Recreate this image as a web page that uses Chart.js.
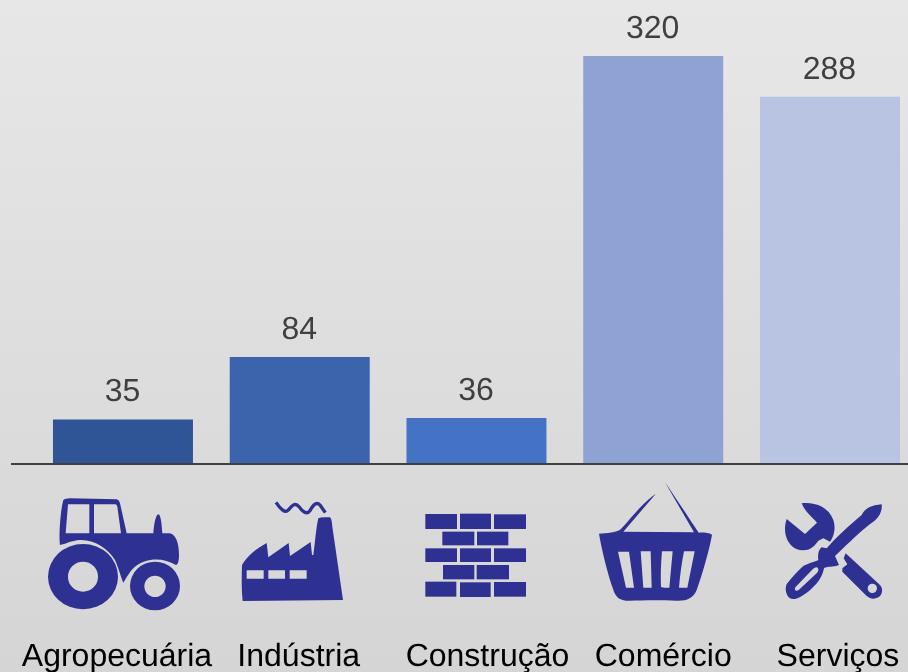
<!DOCTYPE html>
<html lang="pt">
<head>
<meta charset="utf-8">
<title>Setores</title>
<style>
html,body{margin:0;padding:0;width:908px;height:672px;overflow:hidden;background:#dedede}
#wrap{position:absolute;left:0;top:0;width:908px;height:672px;overflow:hidden}
canvas{display:block}
</style>
<script src="https://cdn.jsdelivr.net/npm/chart.js@4/dist/chart.umd.min.js"></script>
</head>
<body>
<div id="wrap"><canvas id="c" width="930" height="672"></canvas></div>
<script>
const categories = ["Agropecuária", "Indústria", "Construção", "Comércio", "Serviços"];
const values = [35, 84, 36, 320, 288];
const barColors = ["#2F5597", "#3C64AD", "#4472C4", "#8FA2D4", "#B9C3E2"];

const labelShift = [-6, -1, 11, 10, 8];
const ICON = "#2E3192";
const FONT = '"Liberation Sans", Arial, sans-serif';

const bricks = [
 [106,132,95,45],[210,131,93,46],[312,133,96,44],
 [157,185,96,41],[261,185,94,41],
 [106,235,95,41],[210,235,93,41],[312,235,96,41],
 [159,285,94,43],[260,285,97,43],
 [106,335,93,45],[210,337,92,44],[312,336,96,44]
];
const tractorPath = "M190,90 Q195,85 210,85 L350,88 Q358,90 360,100 L380,190 L460,190 C462,160 468,133 475,133 C482,133 485,160 487,190 L510,190 C530,195 537,225 537,255 C537,275 533,285 528,285 C490,262 440,262 405,290 C390,302 378,325 370,338 C362,320 358,300 345,270 C325,235 280,208 240,210 C215,212 195,222 180,225 C176,190 182,120 190,90 Z M204,103 L268,103 L268,190 L197,190 Z M282,103 L346,103 Q350,103 352,110 L363,190 L282,190 Z";
const factoryPath = "M726,285 C740,260 770,235 800,219 L805,262 L866,219 L870,258 L932,216 L936,255 L940,255 C945,220 948,175 955,145 Q960,140 990,142 Q995,145 997,170 L1029,390 L728,393 C724,360 725,320 726,285 Z M740,301 H791 V326 H740 Z M805,301 H855 V326 H805 Z M869,301 H920 V326 H869 Z";
const smokePath = "M828,97 C840,115 855,132 865,120 C875,108 885,95 897,110 C905,122 920,137 930,122 C940,105 950,93 960,105 L976,128";
const basketPath = "M627,191 C650,190 680,188 692,178 C715,155 760,95 797,72 L700,185 L912,187 L825,37 C855,80 900,150 926,188 C940,187 955,188 966,194 C958,240 935,320 920,360 C910,385 890,393 860,392 C820,390 760,390 720,392 C695,393 680,385 672,365 C655,320 635,240 627,191 Z M684,245 L717,245 L732,353 L708,353 Z M752,244 L782,244 L785,353 L760,353 Z M816,244 L848,244 L838,353 C825,354 815,352 813,350 C812,310 813,280 816,244 Z M882,244 L914,244 L892,353 L867,353 C870,315 875,280 882,244 Z";
const wrenchPath = "M1235,100 C1270,96 1315,108 1330,150 C1338,175 1332,200 1320,215 L1300,205 L1285,212 C1275,225 1265,240 1240,241 C1215,242 1198,225 1190,205 C1183,185 1184,165 1190,147 L1245,192 L1281,158 C1265,140 1245,125 1235,100 Z M1367,250 L1470,345 C1480,355 1478,375 1465,382 C1450,390 1440,385 1430,378 L1357,305 L1357,295 L1372,283 L1361,265 Z M1461,355 A14,14 0 1 0 1433,355 A14,14 0 1 0 1461,355 Z";
const driverPath = "M1475,103 C1478,125 1465,145 1450,155 C1420,175 1380,215 1335,258 L1347,285 C1330,292 1310,288 1302,295 C1298,320 1280,345 1258,362 C1235,380 1215,392 1200,385 C1190,378 1183,360 1190,342 C1205,325 1225,300 1240,288 C1255,280 1275,275 1285,270 C1283,255 1285,240 1295,232 L1310,235 C1340,200 1380,165 1415,135 C1425,115 1445,105 1475,103 Z M1280,292 C1288,296 1286,304 1280,310 L1226,360 C1218,366 1212,360 1216,352 L1268,298 C1272,294 1276,292 1280,292 Z";

const decor = {
  id: "decor",
  beforeDraw(chart) {
    const { ctx, width, height } = chart;
    const g = ctx.createLinearGradient(0, 0, 0, height);
    g.addColorStop(0, "#E7E7E7");
    g.addColorStop(1, "#D5D5D5");
    ctx.save();
    ctx.fillStyle = g;
    ctx.fillRect(0, 0, width, height);
    ctx.restore();
  },
  afterDatasetsDraw(chart) {
    const { ctx } = chart;
    const meta = chart.getDatasetMeta(0);
    const base = chart.scales.y.getPixelForValue(0);
    ctx.save();
    ctx.strokeStyle = "#404040";
    ctx.lineWidth = 2;
    ctx.beginPath();
    ctx.moveTo(11, base);
    ctx.lineTo(908, base);
    ctx.stroke();

    ctx.textRendering = "geometricPrecision";
    ctx.font = "32px " + FONT;
    ctx.textAlign = "center";
    ctx.textBaseline = "alphabetic";
    ctx.fillStyle = "#404040";
    meta.data.forEach((bar, i) => ctx.fillText(String(values[i]), bar.x - 0.5, bar.y - 18));

    ctx.fillStyle = "#000000";
    meta.data.forEach((bar, i) => ctx.fillText(categories[i], bar.x + labelShift[i], 666));

    ctx.fillStyle = ICON;
    ctx.save();
    ctx.translate(0, 470);
    ctx.scale(1 / 3, 1 / 3);
    ctx.fill(new Path2D(tractorPath), "evenodd");
    const bigWheel = new Path2D();
    bigWheel.ellipse(249, 320, 105, 98, 0, 0, Math.PI * 2);
    bigWheel.ellipse(249, 320, 45, 45, 0, 0, Math.PI * 2);
    ctx.fill(bigWheel, "evenodd");
    const smallWheel = new Path2D();
    smallWheel.ellipse(465, 348, 75, 73, 0, 0, Math.PI * 2);
    smallWheel.ellipse(465, 349, 32, 32, 0, 0, Math.PI * 2);
    ctx.fill(smallWheel, "evenodd");
    ctx.fill(new Path2D(factoryPath), "evenodd");
    ctx.strokeStyle = ICON;
    ctx.lineWidth = 10;
    ctx.stroke(new Path2D(smokePath));
    ctx.restore();

    ctx.save();
    ctx.translate(390, 470);
    ctx.scale(1 / 3, 1 / 3);
    bricks.forEach(b => ctx.fillRect(b[0], b[1], b[2], b[3]));
    ctx.fill(new Path2D(basketPath), "evenodd");
    ctx.fill(new Path2D(wrenchPath), "evenodd");
    ctx.fill(new Path2D(driverPath), "evenodd");
    ctx.restore();
    ctx.restore();
  }
};

new Chart(document.getElementById("c"), {
  type: "bar",
  data: {
    labels: categories,
    datasets: [{ data: values, backgroundColor: barColors, borderWidth: 0 }]
  },
  options: {
    responsive: false,
    animation: false,
    maintainAspectRatio: false,
    layout: { padding: { left: 34.6, right: 11.65, top: 56, bottom: 208 } },
    datasets: { bar: { categoryPercentage: 1, barPercentage: 0.792 } },
    plugins: { legend: { display: false }, tooltip: { enabled: false }, title: { display: false } },
    scales: {
      x: { display: false },
      y: { display: false, min: 0, max: 320 }
    }
  },
  plugins: [decor]
});
</script>
</body>
</html>
